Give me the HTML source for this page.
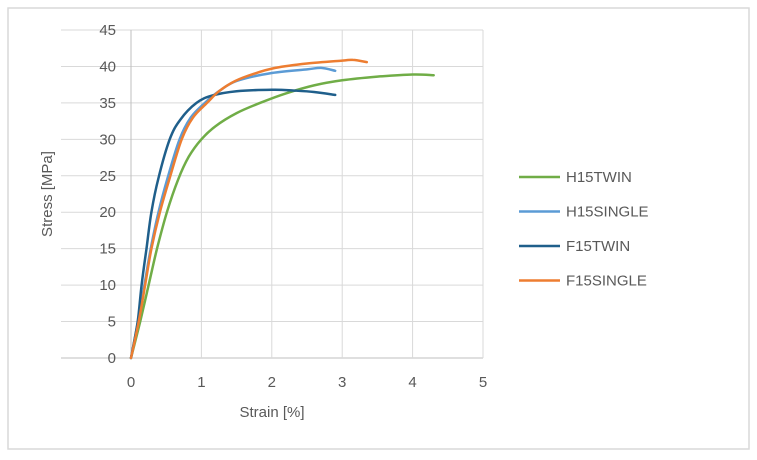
<!DOCTYPE html>
<html><head><meta charset="utf-8"><style>
body{margin:0;background:#fff;}
svg{display:block;font-family:"Liberation Sans",sans-serif;}
</style></head><body>
<svg id="chart" width="757" height="460">
<rect x="8" y="8" width="741" height="441" fill="#fff" stroke="#d9d9d9" stroke-width="1.5"/>
<g id="grid"></g>
<g id="ticks"></g>
<g id="series"></g>
<text x="52" y="194" transform="rotate(-90 52 194)" text-anchor="middle" font-size="15" fill="#595959">Stress [MPa]</text>
<text x="272" y="417" text-anchor="middle" font-size="15" fill="#595959">Strain [%]</text>
<g id="legend"></g>
</svg>
<script>
const xTicks=[0,1,2,3,4,5];
const yTicks=[0,5,10,15,20,25,30,35,40,45];
const names=["H15TWIN","H15SINGLE","F15TWIN","F15SINGLE"];
const colors=["#70ad47","#5b9bd5","#1f5f8b","#ed7d31"];
const h15twinX=[0,0.13,0.25,0.37,0.51,0.67,0.82,1.0,1.2,1.5,1.86,2.2,2.6,3.0,3.5,4.0,4.3];
const h15twinY=[0,5,10,15,20,24.5,27.6,30,31.8,33.6,35.1,36.3,37.4,38.1,38.6,38.9,38.8];
const h15singleX=[0,0.1,0.19,0.28,0.39,0.52,0.69,0.85,1.05,1.25,1.5,2.0,2.5,2.7,2.9];
const h15singleY=[0,5,10,15,20,24.7,30,33,35,36.6,38,39.1,39.6,39.8,39.4];
const f15twinX=[0,0.095,0.15,0.22,0.29,0.39,0.55,0.7,0.93,1.15,1.5,2.0,2.3,2.6,2.9];
const f15twinY=[0,5,10,15,20,24.7,30,32.7,35,36,36.6,36.8,36.7,36.5,36.1];
const f15singleX=[0,0.11,0.2,0.29,0.41,0.55,0.72,0.88,1.08,1.25,1.48,1.75,2.05,2.5,3.0,3.15,3.35];
const f15singleY=[0,5,10,15,20,24.7,30,33,35,36.6,38,39,39.8,40.4,40.8,40.9,40.6];
const seriesX=[h15twinX,h15singleX,f15twinX,f15singleX];
const seriesY=[h15twinY,h15singleY,f15twinY,f15singleY];
const NS="http://www.w3.org/2000/svg";
const x0=131,x1=483,y0=358,y1=30;
const sx=v=>x0+(v-0)/(5-0)*(x1-x0);
const sy=v=>y0-(v-0)/(45-0)*(y0-y1);
function mk(tag,attrs,parent){const e=document.createElementNS(NS,tag);for(const k in attrs)e.setAttribute(k,attrs[k]);parent.appendChild(e);return e;}
const grid=document.getElementById('grid'),ticks=document.getElementById('ticks'),ser=document.getElementById('series'),leg=document.getElementById('legend');
yTicks.forEach(v=>{
  const l=mk('line',{x1:61,x2:x1,y1:sy(v),y2:sy(v),stroke:v===0?'#bfbfbf':'#d9d9d9','stroke-width':1},grid);
  
  
  const t=mk('text',{x:116,y:sy(v)+5,'text-anchor':'end','font-size':15,fill:'#595959'},ticks);
  t.textContent=v;
  
  
});
xTicks.forEach(v=>{
  const l=mk('line',{x1:sx(v),x2:sx(v),y1:y1,y2:y0,stroke:v===0?'#bfbfbf':'#d9d9d9','stroke-width':1},grid);
  
  
  const t=mk('text',{x:sx(v),y:y0+29,'text-anchor':'middle','font-size':15,fill:'#595959'},ticks);
  t.textContent=v;
  
  
});
function smoothPath(px,py){
  let d='M'+px[0].toFixed(1)+','+py[0].toFixed(1);
  for(let i=0;i<px.length-1;i++){
    const p0=i>0?i-1:i,p3=i+2<px.length?i+2:i+1;
    const c1x=px[i]+(px[i+1]-px[p0])/6,c1y=py[i]+(py[i+1]-py[p0])/6;
    const c2x=px[i+1]-(px[p3]-px[i])/6,c2y=py[i+1]-(py[p3]-py[i])/6;
    d+=' C'+c1x.toFixed(1)+','+c1y.toFixed(1)+' '+c2x.toFixed(1)+','+c2y.toFixed(1)+' '+px[i+1].toFixed(1)+','+py[i+1].toFixed(1);
  }
  return d;
}
seriesX.forEach((xs,i)=>{
  const px=xs.map(sx),py=seriesY[i].map(sy);
  const p=mk('path',{d:smoothPath(px,py),fill:'none',stroke:colors[i],'stroke-width':2.5,'stroke-linejoin':'round','stroke-linecap':'round'},ser);
  
  
});
names.forEach((n,i)=>{
  const y=177+i*34.5;
  const l=mk('line',{x1:519,x2:560,y1:y,y2:y,stroke:colors[i],'stroke-width':2.5},leg);
  
  
  const t=mk('text',{x:566,y:y+5,'font-size':15,fill:'#595959'},leg);
  t.textContent=n;
  
  
});
</script>
</body></html>
